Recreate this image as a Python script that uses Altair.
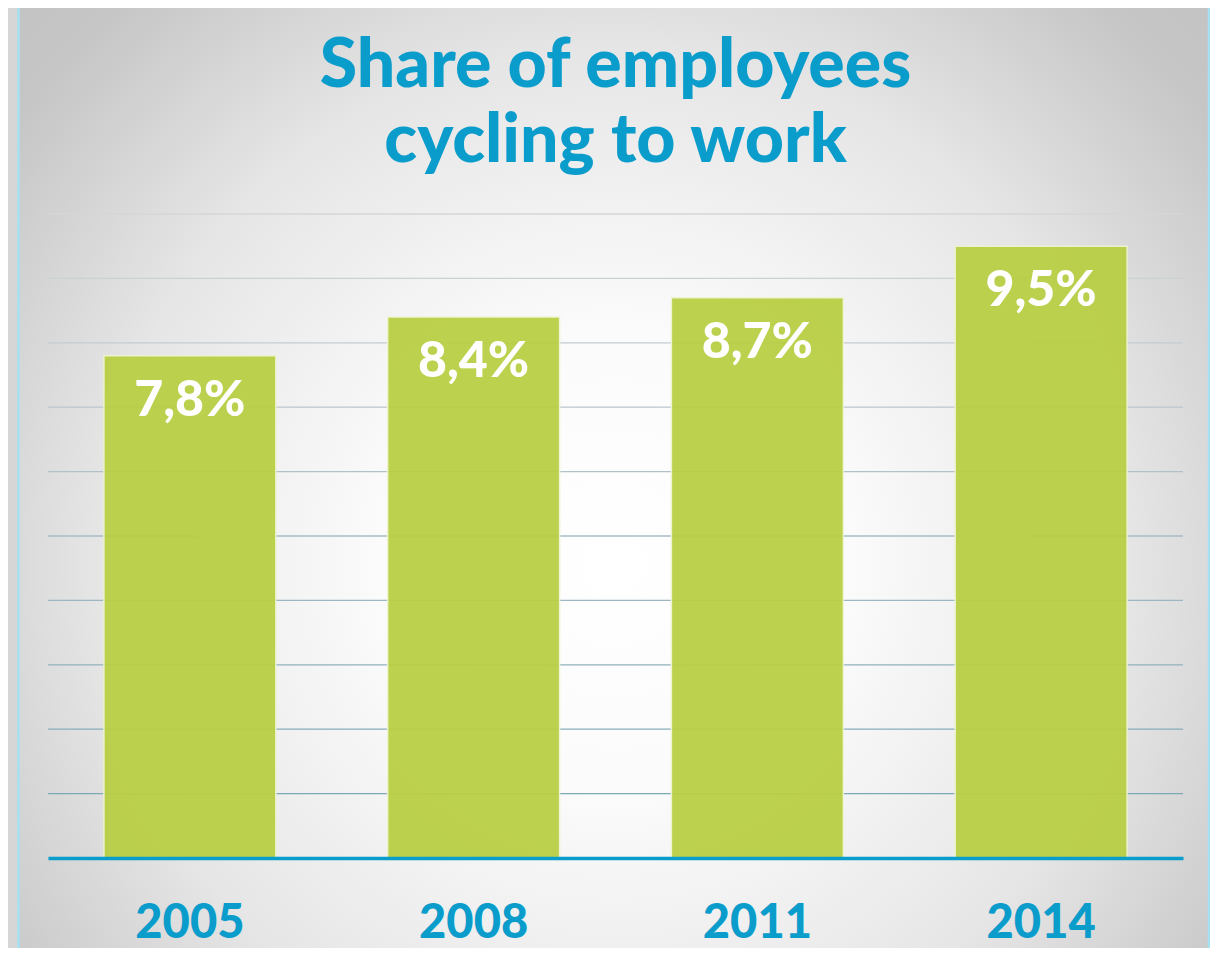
import altair as alt
import pandas as pd

years = ["2005", "2008", "2011", "2014"]
shares = [7.8, 8.4, 8.7, 9.5]
grid_values = [1, 2, 3, 4, 5, 6, 7, 8, 9, 10]
title_lines = ["Share of employees", "cycling to work"]

W, H = 1135, 644
BLUE = "#0a9ccb"
FONT = "Lato"

df = pd.DataFrame({"year": years, "share": shares})
grid_df = pd.DataFrame({"v": grid_values})
one = pd.DataFrame({"a": [0]})

xscale = alt.Scale(domain=years, paddingInner=0.394, paddingOuter=0.197)
yscale = alt.Scale(domain=[0, 10], nice=False, zero=True)

bg_gradient = {
    "gradient": "radial",
    "x1": 0.5, "y1": 0.56, "r1": 0,
    "x2": 0.5, "y2": 0.56, "r2": 0.78,
    "stops": [
        {"offset": 0.0, "color": "#ffffff"},
        {"offset": 0.25, "color": "#fbfbfb"},
        {"offset": 0.55, "color": "#e6e6e6"},
        {"offset": 0.8, "color": "#c6c6c6"},
        {"offset": 1.0, "color": "#c0c0c0"},
    ],
}

background = alt.Chart(one).mark_rect(
    fill=bg_gradient, stroke="#a6e1f3", strokeWidth=2.5
).encode(
    x=alt.value(-29.5), x2=alt.value(1161),
    y=alt.value(-208), y2=alt.value(H + 120),
)

title = alt.Chart(one).mark_text(
    text=title_lines, font=FONT, fontSize=68, fontWeight=900, color=BLUE,
    lineHeight=75, align="center", baseline="alphabetic"
).encode(
    x=alt.value(W / 2), y=alt.value(-127),
)

grid = alt.Chart(grid_df).mark_rule(strokeWidth=1.3).encode(
    y=alt.Y("v:Q", scale=yscale, axis=None),
    color=alt.Color("v:Q", scale=alt.Scale(domain=[1, 10], range=["#7ea7b8", "#d6d6d6"]), legend=None),
)

base = alt.Chart(df)

bars = base.mark_bar(
    fill="#b9cf45", opacity=0.95, stroke="#eef3cf", strokeWidth=1.5
).encode(
    x=alt.X("year:N", scale=xscale, sort=years,
            axis=alt.Axis(title=None, labelFontSize=47, labelFont=FONT, labelFontWeight=900,
                          labelColor=BLUE, labelPadding=42, ticks=False, tickSize=0,
                          domainColor=BLUE, domainWidth=3.5, grid=False,
                          labelAngle=0, zindex=1)),
    y=alt.Y("share:Q", scale=yscale, axis=None),
)

labels = base.transform_calculate(
    lbl="replace(format(datum.share, '.1f'), '.', ',') + '%'"
).mark_text(
    font=FONT, fontSize=50, fontWeight=900, color="white",
    baseline="alphabetic", dy=60, align="center"
).encode(
    x=alt.X("year:N", scale=xscale, sort=years),
    y=alt.Y("share:Q", scale=yscale),
    text="lbl:N",
)

chart = alt.layer(background, title, grid, bars, labels).properties(
    width=W, height=H,
    autosize=alt.AutoSizeParams(type="none"),
    padding={"left": 40, "top": 206, "right": 27, "bottom": 90},
    background="#d6d6d6",
).configure_view(stroke=None)

chart.save("out.html", embed_options={"renderer": "svg", "actions": False})
